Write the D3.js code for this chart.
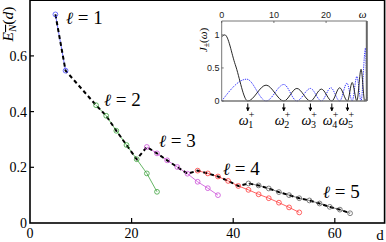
<!DOCTYPE html>
<html>
<head>
<meta charset="utf-8">
<script src="https://cdn.jsdelivr.net/npm/d3@7"></script>
<style>
  body { margin: 0; background: #fff; }
  svg { display: block; }
</style>
</head>
<body>
<div id="chart"></div>
<script>
// main plot data: energy E_N(d) per branch l
const d1 = [5, 7];
const e1 = [0.749, 0.547];
const d2 = [13, 15, 17, 19, 21, 23, 25];
const e2 = [0.423, 0.385, 0.331, 0.280, 0.229, 0.178, 0.112];
const d3s = [23, 25, 27, 29, 31, 33, 35, 37];
const e3 = [0.273, 0.250, 0.225, 0.201, 0.177, 0.148, 0.125, 0.100];
const d4 = [33, 35, 37, 39, 41, 43, 45, 47, 49, 51, 53];
const e4 = [0.188, 0.178, 0.167, 0.151, 0.133, 0.119, 0.103, 0.089, 0.073, 0.056, 0.038];
const d5 = [43, 45, 47, 49, 51, 53, 55, 57, 59, 61, 63];
const e5 = [0.142, 0.135, 0.124, 0.111, 0.100, 0.089, 0.081, 0.070, 0.058, 0.048, 0.035];
const branchLabels = ["1", "2", "3", "4", "5"];
const branchColors = ["#4a4aff", "#3fa33f", "#cc4fd8", "#ff3b3b", "#606060"];

const xTicks = [0, 20, 40, 60];
const yTicks = [0, 0.2, 0.4, 0.6];

// inset data: J+ (black) and J- (blue dotted), read at zeros / peaks
const jbW = [0, 0.6, 2.6, 5.0, 8.5, 11.9, 14.4, 17.0, 19.1, 21.1, 22.6, 24.1, 25.0, 25.9, 26.7, 27.4, 27.8];
const jbV = [0.97, 1.0, 0.55, 0, 0.24, 0, 0.19, 0, 0.18, 0, 0.20, 0, 0.28, 0, 0.48, 0, 0.05];
const jdW = [0, 4.8, 8.5, 11.9, 14.4, 17.0, 19.1, 20.9, 22.6, 24.0, 25.0, 25.9, 26.7, 27.55, 27.8];
const jdV = [0, 0.33, 0, 0.25, 0, 0.19, 0, 0.20, 0, 0.27, 0, 0.37, 0, 0.80, 0];
const insetXTicks = [0, 10, 20];
const insetYTicks = [0, 0.5, 1];
const omegaPlus = [5.0, 11.9, 17.0, 21.1, 24.1];

const W = 386, H = 242;
const svg = d3.select("#chart").append("svg")
  .attr("width", W).attr("height", H);

const x = d3.scaleLinear().domain([0, 69.8]).range([30, 384.6]);
const y = d3.scaleLinear().domain([0, 0.8]).range([223, 0.2]);

const serif = "'Liberation Serif', 'DejaVu Serif', serif";

// frame
svg.append("rect")
  .attr("x", x(0)).attr("y", y(0.8))
  .attr("width", x(69.8) - x(0)).attr("height", y(0) - y(0.8))
  .attr("fill", "none").attr("stroke", "#000").attr("stroke-width", 1.6);

// ticks (inward)
svg.append("g").selectAll("line").data(xTicks.slice(1)).enter().append("line")
  .attr("x1", d => x(d)).attr("x2", d => x(d))
  .attr("y1", y(0)).attr("y2", y(0) - 5)
  .attr("stroke", "#000").attr("stroke-width", 1.2);
svg.append("g").selectAll("line").data(yTicks.slice(1)).enter().append("line")
  .attr("x1", x(0)).attr("x2", x(0) + 4)
  .attr("y1", d => y(d)).attr("y2", d => y(d))
  .attr("stroke", "#000").attr("stroke-width", 1.2);

svg.append("g").selectAll("text").data(xTicks).enter().append("text")
  .attr("x", d => x(d)).attr("y", 238)
  .attr("text-anchor", "middle")
  .attr("font-family", serif).attr("font-size", 14)
  .text(d => d);
svg.append("g").selectAll("text").data(yTicks).enter().append("text")
  .attr("x", 27).attr("y", d => y(d) + 5)
  .attr("text-anchor", "end")
  .attr("font-family", serif).attr("font-size", 14)
  .text(d => d === 0 ? "0" : d.toFixed(1));

svg.append("text").attr("x", 380).attr("y", 240)
  .attr("text-anchor", "middle")
  .attr("font-family", serif).attr("font-size", 15)
  .text("d");

// y label with overline
const yl = svg.append("text")
  .attr("transform", "translate(13,24) rotate(-90)")
  .attr("text-anchor", "middle")
  .attr("font-family", serif).attr("font-size", 15.5)
  .style("text-decoration", "overline");
yl.append("tspan").attr("font-style", "italic").text("E");
yl.append("tspan").attr("font-style", "italic").attr("font-size", 11).attr("dy", 3).text("N");
yl.append("tspan").attr("dy", -3).text("(");
yl.append("tspan").attr("font-style", "italic").text("d");
yl.append("tspan").text(")");

// branches
const series = [
  { d: d1, e: e1 }, { d: d2, e: e2 }, { d: d3s, e: e3 }, { d: d4, e: e4 }, { d: d5, e: e5 }
].map((s, i) => ({ pts: s.d.map((v, j) => [v, s.e[j]]), color: branchColors[i] }));

const line = d3.line().x(p => x(p[0])).y(p => y(p[1]));

series.forEach(s => {
  svg.append("path").datum(s.pts)
    .attr("d", line).attr("fill", "none")
    .attr("stroke", s.color).attr("stroke-width", 0.8);
});

// envelope: lowest-energy branch at each d
const envMap = new Map();
series.forEach(s => s.pts.forEach(p => {
  if (!envMap.has(p[0]) || envMap.get(p[0]) < p[1]) envMap.set(p[0], p[1]);
}));
const env = Array.from(envMap.entries()).sort((a, b) => a[0] - b[0]);
svg.append("path").datum(env)
  .attr("d", line).attr("fill", "none")
  .attr("stroke", "#000").attr("stroke-width", 2)
  .attr("stroke-dasharray", "4,3");

series.forEach(s => {
  svg.append("g").selectAll("circle").data(s.pts).enter().append("circle")
    .attr("cx", p => x(p[0])).attr("cy", p => y(p[1]))
    .attr("r", 2.4).attr("fill", "none")
    .attr("stroke", s.color).attr("stroke-width", 0.8);
});

// branch labels
const labelPos = [[66, 24], [104, 106], [159, 147], [223, 175], [323, 198]];
branchLabels.forEach((t, i) => {
  const lt = svg.append("text")
    .attr("x", labelPos[i][0]).attr("y", labelPos[i][1])
    .attr("font-family", "'DejaVu Serif', serif").attr("font-size", 17);
  lt.append("tspan").attr("font-style", "italic").text("\u2113");
  lt.append("tspan").attr("font-family", serif).attr("font-size", 19).text(" = " + t);
});

// ---------- inset ----------
const xi = d3.scaleLinear().domain([0, 27.8]).range([221.7, 366.8]);
const yi = d3.scaleLinear().domain([0, 1.21]).range([101, 21]);
const sans = "'Liberation Sans', Arial, sans-serif";

svg.append("rect")
  .attr("x", xi(0)).attr("y", yi(1.21))
  .attr("width", xi(27.8) - xi(0)).attr("height", yi(0) - yi(1.21))
  .attr("fill", "#fff");

const ijLine = d3.line().x(p => xi(p[0])).y(p => yi(p[1])).curve(d3.curveMonotoneX);
svg.append("path").datum(jdW.map((w, i) => [w, jdV[i]]))
  .attr("d", ijLine).attr("fill", "none")
  .attr("stroke", "#1f1fff").attr("stroke-width", 0.9)
  .attr("stroke-dasharray", "1.3,1");
svg.append("path").datum(jbW.map((w, i) => [w, jbV[i]]))
  .attr("d", ijLine).attr("fill", "none")
  .attr("stroke", "#111").attr("stroke-width", 0.9);

// inset axes
svg.append("line").attr("x1", xi(0)).attr("x2", xi(27.8)).attr("y1", yi(1.21)).attr("y2", yi(1.21))
  .attr("stroke", "#777").attr("stroke-width", 1);
svg.append("line").attr("x1", xi(0)).attr("x2", xi(0)).attr("y1", yi(1.21)).attr("y2", yi(0))
  .attr("stroke", "#777").attr("stroke-width", 1);
svg.append("line").attr("x1", xi(0)).attr("x2", xi(27.8)).attr("y1", yi(0)).attr("y2", yi(0))
  .attr("stroke", "#777").attr("stroke-width", 1.6);
svg.append("line").attr("x1", xi(27.8)).attr("x2", xi(27.8)).attr("y1", yi(1.21)).attr("y2", yi(0))
  .attr("stroke", "#666").attr("stroke-width", 2);

svg.append("g").selectAll("line").data(insetXTicks).enter().append("line")
  .attr("x1", d => xi(d)).attr("x2", d => xi(d))
  .attr("y1", yi(1.21)).attr("y2", yi(1.21) + 2)
  .attr("stroke", "#555").attr("stroke-width", 0.8);
svg.append("g").selectAll("text").data(insetXTicks).enter().append("text")
  .attr("x", d => xi(d)).attr("y", 18)
  .attr("text-anchor", "middle")
  .attr("font-family", sans).attr("font-size", 9).attr("fill", "#222")
  .text(d => d);
svg.append("text").attr("x", xi(27.0)).attr("y", 18)
  .attr("text-anchor", "middle")
  .attr("font-family", serif).attr("font-style", "italic").attr("font-size", 11)
  .text("\u03c9");

svg.append("g").selectAll("line").data(insetYTicks).enter().append("line")
  .attr("x1", xi(0)).attr("x2", xi(0) + 2)
  .attr("y1", d => yi(d)).attr("y2", d => yi(d))
  .attr("stroke", "#555").attr("stroke-width", 0.8);
svg.append("g").selectAll("text").data(insetYTicks).enter().append("text")
  .attr("x", 219.5).attr("y", d => yi(d) + 3)
  .attr("text-anchor", "end")
  .attr("font-family", sans).attr("font-size", 9).attr("fill", "#222")
  .text(d => d);

const jl = svg.append("text")
  .attr("transform", "translate(207,40) rotate(-90)")
  .attr("text-anchor", "middle")
  .attr("font-family", serif).attr("font-size", 11);
jl.append("tspan").attr("font-style", "italic").text("J");
jl.append("tspan").attr("font-size", 8).attr("dy", 2).text("\u00b1");
jl.append("tspan").attr("dy", -2).text("(");
jl.append("tspan").attr("font-style", "italic").text("\u03c9");
jl.append("tspan").text(")");

// arrows to omega_n^+
svg.append("defs").append("marker")
  .attr("id", "ah").attr("viewBox", "0 0 10 10")
  .attr("refX", 9).attr("refY", 5)
  .attr("markerWidth", 4).attr("markerHeight", 4)
  .attr("orient", "auto")
  .append("path").attr("d", "M0,0L10,5L0,10z").attr("fill", "#000");

omegaPlus.forEach((w, i) => {
  svg.append("line")
    .attr("x1", xi(w)).attr("x2", xi(w))
    .attr("y1", 103.5).attr("y2", 111)
    .attr("stroke", "#000").attr("stroke-width", 1)
    .attr("marker-end", "url(#ah)");
  const t = svg.append("text")
    .attr("x", xi(w) - 9).attr("y", 125)
    .attr("font-family", serif).attr("font-size", 14);
  t.append("tspan").attr("font-style", "italic").text("\u03c9");
  t.append("tspan").attr("font-size", 10).attr("dy", -7).text("+");
  t.append("tspan").attr("font-size", 10).attr("dx", -6).attr("dy", 10).text(i + 1);
});
</script>
</body>
</html>
